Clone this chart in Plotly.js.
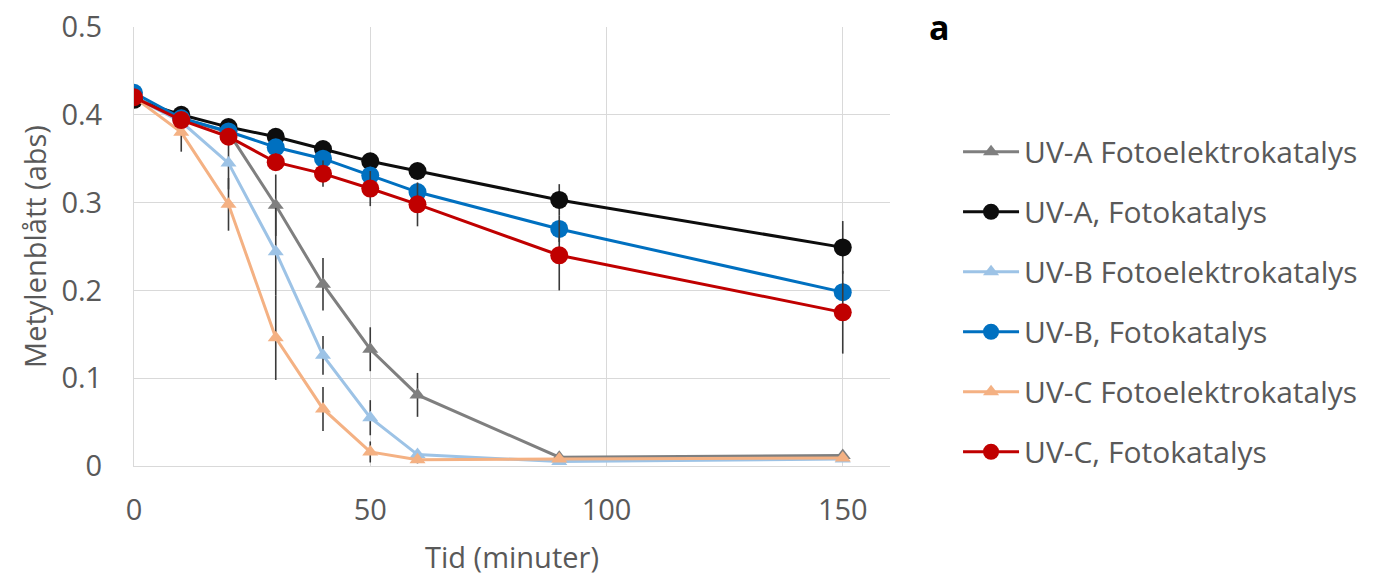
<!DOCTYPE html>
<html>
<head>
<meta charset="utf-8">
<script src="https://cdn.plot.ly/plotly-3.0.1.min.js"></script>
<style>html,body{margin:0;padding:0;background:#fff;}#chart{width:1376px;height:582px;}</style>
</head>
<body>
<div id="chart"></div>
<script>
const time = [0, 10, 20, 30, 40, 50, 60, 90, 150];

const seriesNames = [
  "UV-A Fotoelektrokatalys",
  "UV-A, Fotokatalys",
  "UV-B Fotoelektrokatalys",
  "UV-B, Fotokatalys",
  "UV-C Fotoelektrokatalys",
  "UV-C, Fotokatalys"
];

const uvaFEK = [0.420, 0.396, 0.380, 0.297, 0.207, 0.133, 0.081, 0.010, 0.012];
const uvaFK  = [0.417, 0.400, 0.386, 0.375, 0.361, 0.347, 0.336, 0.303, 0.249];
const uvbFEK = [0.420, 0.392, 0.345, 0.244, 0.126, 0.055, 0.013, 0.005, 0.008];
const uvbFK  = [0.425, 0.396, 0.381, 0.363, 0.350, 0.331, 0.312, 0.270, 0.198];
const uvcFEK = [0.420, 0.380, 0.298, 0.146, 0.065, 0.016, 0.007, 0.008, 0.009];
const uvcFK  = [0.420, 0.394, 0.375, 0.346, 0.333, 0.316, 0.298, 0.240, 0.175];

const uvaFEKerr = [0.004, 0.010, 0.010, 0.035, 0.030, 0.025, 0.025, 0.003, 0.003];
const uvaFKerr  = [0.004, 0.005, 0.005, 0.005, 0.006, 0.006, 0.008, 0.018, 0.030];
const uvbFEKerr = [0.004, 0.010, 0.030, 0.050, 0.022, 0.020, 0.005, 0.003, 0.003];
const uvbFKerr  = [0.004, 0.005, 0.005, 0.006, 0.008, 0.010, 0.010, 0.015, 0.010];
const uvcFEKerr = [0.004, 0.022, 0.030, 0.048, 0.025, 0.012, 0.004, 0.003, 0.003];
const uvcFKerr  = [0.004, 0.006, 0.006, 0.010, 0.015, 0.020, 0.025, 0.040, 0.047];

const seriesValues = [uvaFEK, uvaFK, uvbFEK, uvbFK, uvcFEK, uvcFK];
const seriesErrors = [uvaFEKerr, uvaFKerr, uvbFEKerr, uvbFKerr, uvcFEKerr, uvcFKerr];
const seriesColors = ["#7f7f7f", "#0d0d0d", "#9dc3e6", "#0070c0", "#f4b183", "#c00000"];
const seriesSymbols = ["triangle-up", "circle", "triangle-up", "circle", "triangle-up", "circle"];

const traces = seriesNames.map((name, i) => ({
  type: "scatter",
  mode: "lines+markers",
  name: name,
  legendgroup: "g" + i,
  x: time,
  y: seriesValues[i],
  line: {color: seriesColors[i], width: 3},
  marker: {
    color: seriesColors[i],
    symbol: seriesSymbols[i],
    size: seriesSymbols[i] === "circle" ? 18 : 14
  },
  error_y: {
    type: "data",
    array: seriesErrors[i],
    visible: true,
    color: "#3a3a3a",
    thickness: 1.6,
    width: 0
  }
}));

const font = "Open Sans, Lato, sans-serif";

const layout = {
  width: 1376,
  height: 582,
  margin: {l: 134, r: 486, t: 27, b: 116},
  paper_bgcolor: "#ffffff",
  plot_bgcolor: "#ffffff",
  showlegend: true,
  font: {family: font, color: "#595959", size: 24},
  xaxis: {
    range: [0, 160],
    tickvals: [0, 50, 100, 150],
    showgrid: true,
    gridcolor: "#d9d9d9",
    gridwidth: 1,
    zeroline: false,
    showline: true,
    linecolor: "#d9d9d9",
    ticks: "",
    ticklabelstandoff: 18,
    tickfont: {family: font, size: 29, color: "#595959"},
    title: {text: "Tid (minuter)", font: {family: font, size: 29, color: "#595959"}, standoff: 20}
  },
  yaxis: {
    range: [0, 0.5],
    tickvals: [0, 0.1, 0.2, 0.3, 0.4, 0.5],
    ticktext: ["0", "0.1", "0.2", "0.3", "0.4", "0.5"],
    showgrid: true,
    gridcolor: "#d9d9d9",
    gridwidth: 1,
    zeroline: false,
    showline: true,
    linecolor: "#d9d9d9",
    ticks: "",
    ticklabelstandoff: 25,
    tickfont: {family: font, size: 29, color: "#595959"},
    title: {text: "Metylenblått (abs)", font: {family: font, size: 29, color: "#595959"}, standoff: 6}
  },
  legend: {
    x: 1.09,
    xanchor: "left",
    y: 0.775,
    yanchor: "top",
    font: {family: font, size: 30, color: "#595959"},
    itemwidth: 56,
    tracegroupgap: 18,
    bgcolor: "rgba(0,0,0,0)"
  },
  annotations: [{
    text: "<b>a</b>",
    xref: "paper", yref: "paper",
    x: 1.066, y: 1.0,
    xanchor: "center", yanchor: "middle",
    showarrow: false,
    font: {family: font, size: 34, color: "#000000"}
  }]
};

Plotly.newPlot("chart", traces, layout, {displayModeBar: false, staticPlot: true});
</script>
</body>
</html>
